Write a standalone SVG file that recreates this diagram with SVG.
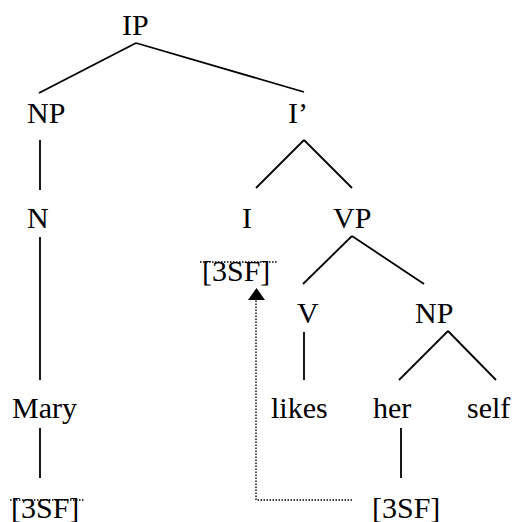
<svg xmlns="http://www.w3.org/2000/svg" width="517" height="522" viewBox="0 0 517 522">
  <style>
    text { font-family: "Liberation Serif", "Times New Roman", serif; font-size: 30px; fill: #000; }
    .edge { stroke: #000; stroke-width: 1.8; fill: none; stroke-linecap: butt; }
    .dot { stroke: #000; stroke-width: 1.4; fill: none; stroke-dasharray: 1.5 1.5; }
  </style>
  <rect width="517" height="522" fill="#fff"/>

  <!-- tree branches -->
  <g id="connectors">
    <line class="edge" x1="136" y1="43" x2="39" y2="93"/>
    <line class="edge" x1="136" y1="43" x2="304" y2="92"/>
    <line class="edge" x1="40" y1="140" x2="40" y2="190"/>
    <line class="edge" x1="304" y1="140" x2="256" y2="188"/>
    <line class="edge" x1="304" y1="140" x2="352" y2="188"/>
    <line class="edge" x1="40" y1="237" x2="40" y2="380"/>
    <line class="edge" x1="352" y1="236" x2="303" y2="284"/>
    <line class="edge" x1="352" y1="236" x2="424" y2="284"/>
    <line class="edge" x1="304" y1="332" x2="304" y2="380"/>
    <line class="edge" x1="448" y1="331" x2="399" y2="380"/>
    <line class="edge" x1="448" y1="331" x2="496" y2="380"/>
    <line class="edge" x1="40" y1="428" x2="40" y2="478"/>
    <line class="edge" x1="401" y1="428" x2="401" y2="478"/>
    <!-- feature checking path -->
    <polyline class="dot" points="352,500 256,500 256,300"/>
    <path d="M248,300 L256.5,288 L265,300 Z" fill="#000"/>
  </g>

  <g id="IP"><text x="122" y="35">IP</text></g>
  <g id="NP-subject"><text x="27" y="123">NP</text></g>
  <g id="I-bar"><text x="288" y="123">I’</text></g>
  <g id="N"><text x="27" y="228">N</text></g>
  <g id="I">
    <text x="242" y="228">I</text>
    <text x="202" y="281">[3SF]</text>
    <line class="dot" x1="200" y1="262" x2="278" y2="262"/>
  </g>
  <g id="VP"><text x="333" y="228">VP</text></g>
  <g id="V"><text x="297" y="323">V</text></g>
  <g id="NP-object"><text x="415" y="323">NP</text></g>
  <g id="Mary">
    <text x="12" y="418">Mary</text>
    <text x="11" y="518">[3SF]</text>
    <line class="dot" x1="10" y1="500" x2="84" y2="500"/>
  </g>
  <g id="likes"><text x="271" y="418">likes</text></g>
  <g id="her">
    <text x="373" y="418">her</text>
    <text x="372" y="518">[3SF]</text>
  </g>
  <g id="self"><text x="467" y="418">self</text></g>
</svg>
